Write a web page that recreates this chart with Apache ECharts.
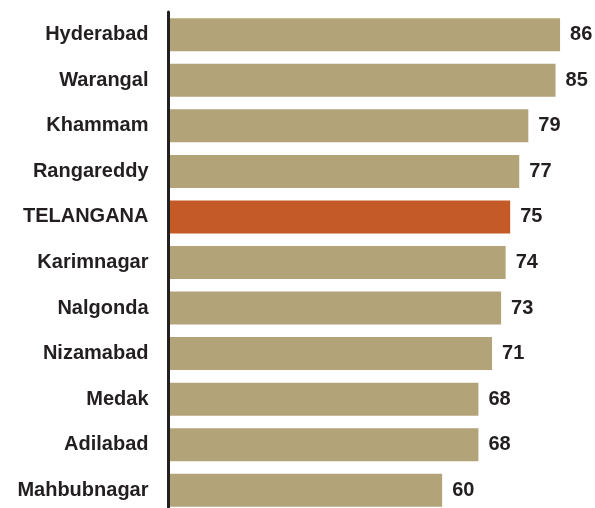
<!DOCTYPE html>
<html>
<head>
<meta charset="utf-8">
<script src="https://cdn.jsdelivr.net/npm/echarts@6/dist/echarts.min.js"></script>
<style>
html,body{margin:0;padding:0;background:#fff;}
#c{width:595px;height:508px;}
</style>
</head>
<body>
<div id="c"></div>
<script>
const categories = ["Hyderabad","Warangal","Khammam","Rangareddy","TELANGANA","Karimnagar","Nalgonda","Nizamabad","Medak","Adilabad","Mahbubnagar"];
const values = [86,85,79,77,75,74,73,71,68,68,60];
const highlight = "TELANGANA";

const baseColor = "#b3a378";
const hiColor = "#c55a29";
const textColor = "#231f20";

const chart = echarts.init(document.getElementById('c'), null, {renderer:'canvas'});
chart.setOption({
  animation:false,
  backgroundColor:'#ffffff',
  grid:{left:170, top:12, height:501, width:425, containLabel:false, outerBoundsMode:'none'},
  xAxis:{type:'value', min:0, max:93.7, show:false},
  yAxis:{
    type:'category', data:categories, inverse:true, offset:1.5,
    axisLine:{show:true, onZero:false, lineStyle:{color:textColor, width:3}},
    axisTick:{show:false},
    axisLabel:{color:textColor, fontSize:20, fontWeight:'bold', fontFamily:'Liberation Sans, Arial, sans-serif', margin:20},
    z:5
  },
  series:[{
    type:'bar',
    barWidth:33,
    data: values.map((v,i)=>({value:v, itemStyle:{color: categories[i]===highlight ? hiColor : baseColor}})),
    label:{show:true, position:'right', distance:10, color:textColor, fontSize:20, fontWeight:'bold', fontFamily:'Liberation Sans, Arial, sans-serif'}
  }]
});
</script>
</body>
</html>
